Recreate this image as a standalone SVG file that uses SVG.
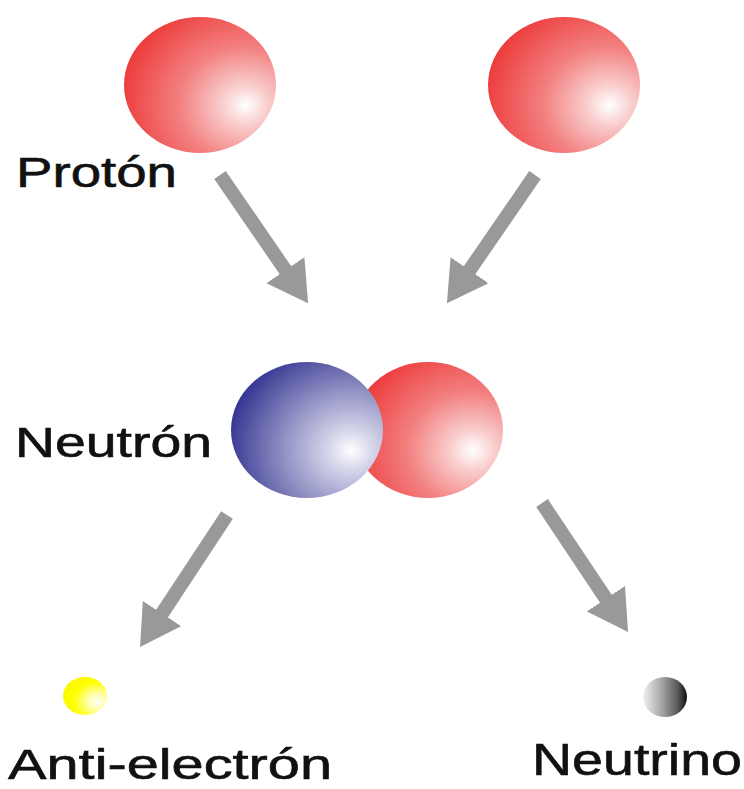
<svg xmlns="http://www.w3.org/2000/svg" width="744" height="789" viewBox="0 0 744 789">
<style>
.lbl{font-family:"Liberation Sans",Arial,sans-serif;font-size:42px;fill:#111;stroke:#111;stroke-width:0.6px;}
.arr{stroke:#999999;stroke-width:14;fill:none;marker-end:url(#head);}
</style>
<defs>
<radialGradient id="gRed" cx="0.78" cy="0.64" r="0.85" fx="0.8" fy="0.65">
<stop offset="0" stop-color="#ffffff"/>
<stop offset="0.18" stop-color="#f9cccc"/>
<stop offset="0.5" stop-color="#f38080"/>
<stop offset="1" stop-color="#ec3434"/>
</radialGradient>
<radialGradient id="gBlue" cx="0.78" cy="0.64" r="0.85" fx="0.79" fy="0.65">
<stop offset="0" stop-color="#ffffff"/>
<stop offset="0.18" stop-color="#d4d4ea"/>
<stop offset="0.5" stop-color="#9494c6"/>
<stop offset="1" stop-color="#2c2c8c"/>
</radialGradient>
<radialGradient id="gYellow" cx="0.75" cy="0.64" r="0.8" fx="0.78" fy="0.65">
<stop offset="0" stop-color="#ffffff"/>
<stop offset="0.3" stop-color="#ffff9a"/>
<stop offset="0.65" stop-color="#ffff00"/>
<stop offset="1" stop-color="#f8f800"/>
</radialGradient>
<linearGradient id="gGray" x1="0" y1="0" x2="1" y2="0">
<stop offset="0" stop-color="#f2f2f2"/>
<stop offset="0.45" stop-color="#a0a0a0"/>
<stop offset="0.8" stop-color="#555555"/>
<stop offset="1" stop-color="#111111"/>
</linearGradient>
<marker id="head" markerUnits="userSpaceOnUse" markerWidth="40" markerHeight="46" viewBox="0 0 40 46" refX="1" refY="23" orient="auto">
<path d="M0,0 L40,23 L0,46 Z" fill="#999999"/>
</marker>
</defs>
<rect width="744" height="789" fill="#ffffff"/>

<g id="proton1">
<ellipse cx="200" cy="85" rx="76" ry="68" fill="url(#gRed)"/>
<text class="lbl" x="16" y="187" textLength="161" lengthAdjust="spacingAndGlyphs">Protón</text>
</g>
<g id="proton2">
<ellipse cx="564" cy="85" rx="76" ry="68" fill="url(#gRed)"/>
</g>
<g id="neutron">
<ellipse cx="428" cy="430" rx="75" ry="68" fill="url(#gRed)"/>
<ellipse cx="307" cy="430" rx="76" ry="68" fill="url(#gBlue)"/>
<text class="lbl" x="15" y="457" textLength="197" lengthAdjust="spacingAndGlyphs">Neutrón</text>
</g>
<g id="antielectron">
<ellipse cx="85" cy="696" rx="22" ry="19" fill="url(#gYellow)"/>
<text class="lbl" x="8" y="779" textLength="324" lengthAdjust="spacingAndGlyphs">Anti-electrón</text>
</g>
<g id="neutrino">
<ellipse cx="665" cy="697" rx="22" ry="20" fill="url(#gGray)"/>
<text class="lbl" x="532" y="775" style="font-size:45px" textLength="210" lengthAdjust="spacingAndGlyphs">Neutrino</text>
</g>

<g id="connectors">
<line class="arr" x1="220" y1="175" x2="286" y2="271"/>
<line class="arr" x1="535" y1="175" x2="469" y2="271"/>
<line class="arr" x1="227" y1="515" x2="161.5" y2="614.4"/>
<line class="arr" x1="542" y1="503" x2="606.4" y2="599.5"/>
</g>
</svg>
